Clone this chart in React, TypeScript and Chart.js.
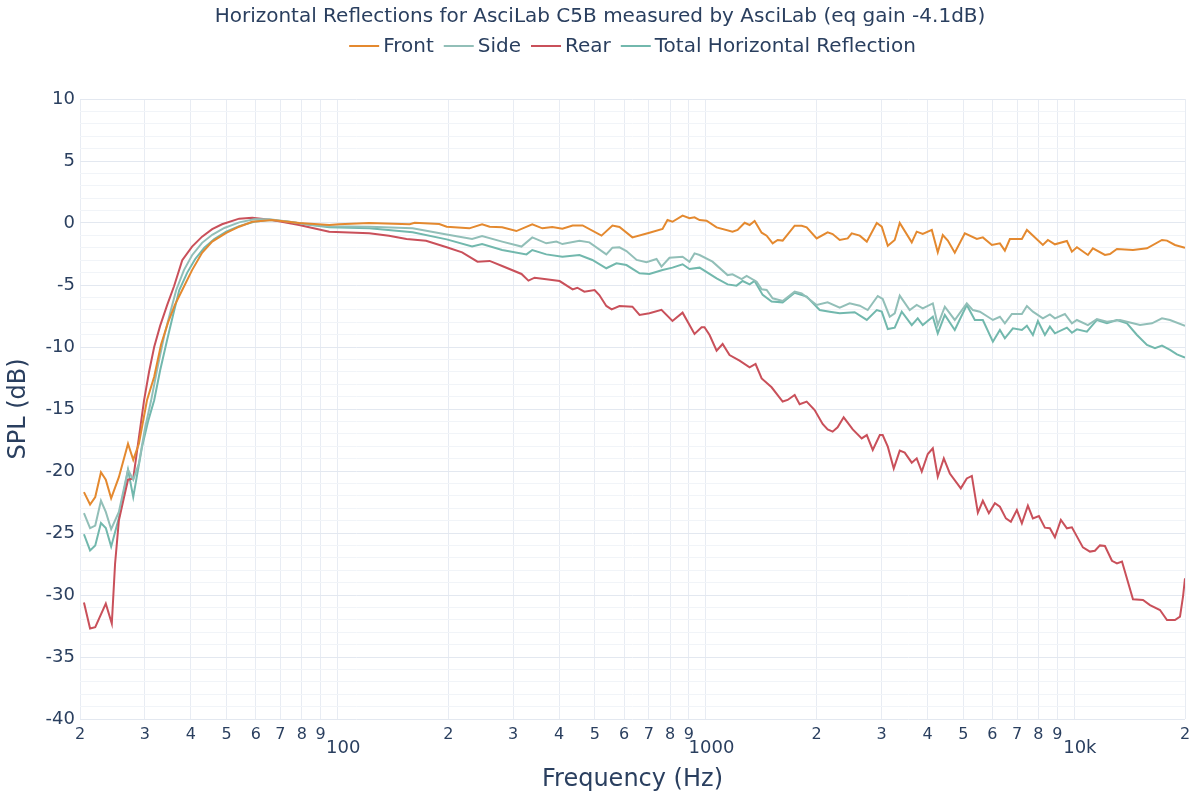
import React, { useEffect, useRef } from "react";
import { Chart, registerables } from "chart.js";

Chart.register(...registerables);

const TITLE = "Horizontal Reflections for AsciLab C5B measured by AsciLab (eq gain -4.1dB)";
const X_TITLE = "Frequency (Hz)";
const Y_TITLE = "SPL (dB)";

const frontFreq = [20.5,21.3,22.0,22.8,23.5,24.3,25.5,27.0,27.9,28.9,30.4,31.8,33.2,34.7,36.2,37.9,40.3,42.9,45.7,49.9,54.1,58.7,66.5,78.7,95,
  101,122,157,162,189,198,228,247,259,280,306,338,360,383,408,435,463,521,558,583,632,703,763,787,812,865,903,932,962,1005,1070,1182,1220,1275,1315,1357,1418,1463,1519,1567,1617,1743,1821,1879,2000,2142,2210,2310,2428,2490,2618,2736,2912,3004,3120,3258,3362,3624,3738,3882,4108,4264,4400,4540,4742,5050,5444,5652,5980,6288,6486,6692,7214,7444,8226,8488,8868,9558,9862,10176,10900,11246,12124,12510,13070,14448,15770,17320,17870,18782,20000];
const frontSpl = [-21.7,-22.7,-22.1,-20.1,-20.7,-22.2,-20.5,-17.8,-19.1,-17.8,-14.3,-12.4,-9.8,-8.0,-6.6,-5.4,-3.8,-2.4,-1.5,-0.8,-0.3,0.1,0.24,0.0,-0.16,
  -0.1,0.0,-0.1,0.02,-0.08,-0.3,-0.43,-0.1,-0.3,-0.35,-0.65,-0.1,-0.43,-0.32,-0.46,-0.2,-0.2,-1.02,-0.2,-0.32,-1.16,-0.78,-0.48,0.24,0.1,0.59,0.38,0.46,0.24,0.19,-0.35,-0.7,-0.56,0.02,-0.16,0.16,-0.78,-1.02,-1.64,-1.37,-1.42,-0.22,-0.22,-0.35,-1.24,-0.75,-0.89,-1.37,-1.24,-0.83,-1.02,-1.5,0.0,-0.3,-1.83,-1.37,0.0,-1.56,-0.7,-0.89,-0.56,-2.36,-0.97,-1.42,-2.39,-0.83,-1.29,-1.16,-1.77,-1.64,-2.23,-1.29,-1.29,-0.56,-1.77,-1.37,-1.72,-1.45,-2.31,-1.96,-2.58,-2.04,-2.58,-2.5,-2.1,-2.18,-2.04,-1.37,-1.42,-1.77,-1.99];

const sideFreq = [20.5,21.3,22.0,22.8,23.5,24.3,25.5,27.0,27.9,28.9,30.0,31.2,32.4,33.8,35.1,36.5,38.3,40.3,42.9,45.7,49.3,54.1,59.4,65.3,74.0,83.8,95,
  122,160,198,232,247,280,316,338,369,393,408,454,483,537,558,583,609,649,690,735,758,797,865,903,932,962,1043,1146,1182,1251,1291,1374,1418,1463,1519,1617,1743,1821,2000,2142,2310,2458,2618,2752,2930,3022,3158,3258,3362,3578,3738,3882,4134,4264,4456,4742,5112,5310,5548,6018,6288,6486,6776,7214,7444,7728,8226,8594,8868,9440,9862,10176,10900,11532,12276,13320,15094,16270,17320,18210,20000];
const sideSpl = [-23.4,-24.6,-24.4,-22.4,-23.3,-24.7,-23.3,-19.9,-20.7,-19.4,-16.6,-14.3,-11.8,-9.2,-7.3,-5.4,-3.8,-2.6,-1.6,-0.95,-0.4,0.05,0.3,0.3,0.1,-0.15,-0.26,
  -0.3,-0.43,-0.92,-1.29,-1.05,-1.5,-1.9,-1.16,-1.64,-1.5,-1.7,-1.43,-1.56,-2.53,-1.99,-1.96,-2.26,-2.98,-3.17,-2.9,-3.52,-2.8,-2.72,-3.12,-2.45,-2.58,-3.12,-4.2,-4.14,-4.52,-4.27,-4.73,-5.35,-5.4,-6.07,-6.29,-5.54,-5.67,-6.61,-6.4,-6.83,-6.48,-6.67,-7.02,-5.89,-6.13,-7.56,-7.28,-5.86,-7.02,-6.61,-6.88,-6.48,-8.23,-6.75,-7.82,-6.48,-7.02,-7.15,-7.82,-7.56,-8.09,-7.34,-7.34,-6.7,-7.15,-7.69,-7.37,-7.69,-7.34,-8.09,-7.82,-8.23,-7.74,-7.96,-7.82,-8.23,-8.09,-7.69,-7.82,-8.3];

const rearFreq = [20.5,21.3,22.0,23.5,24.4,24.9,25.5,26.3,27.0,27.9,28.9,29.85,30.8,31.8,33.0,34.5,36.0,37.9,40.3,42.9,45.7,48.6,54.1,58.7,66.5,78.7,95,
  122,138,154,174,198,218,240,259,280,316,330,343,369,401,435,448,468,499,514,537,555,583,632,661,703,758,812,865,932,974,992,1024,1070,1111,1160,1235,1315,1365,1418,1509,1617,1668,1743,1798,1879,1975,2076,2142,2210,2280,2368,2506,2650,2736,2840,2968,3022,3120,3238,3362,3468,3624,3738,3858,4006,4134,4264,4428,4598,4924,5112,5276,5478,5652,5868,6094,6288,6528,6734,6992,7214,7490,7728,8024,8330,8594,8868,9206,9558,9862,10564,11038,11388,11750,12124,12668,13070,13488,14448,15380,16068,17104,17870,18782,19384,19752,20000];
const rearSpl = [-30.6,-32.7,-32.6,-30.7,-32.3,-27.5,-24.0,-22.2,-20.7,-20.6,-17.3,-14.3,-12.0,-10.0,-8.3,-6.6,-5.1,-3.0,-1.9,-1.1,-0.5,-0.1,0.35,0.43,0.24,-0.16,-0.7,
  -0.83,-1.02,-1.29,-1.43,-1.96,-2.37,-3.12,-3.06,-3.47,-4.11,-4.65,-4.41,-4.54,-4.68,-5.35,-5.22,-5.54,-5.4,-5.81,-6.69,-6.96,-6.69,-6.75,-7.42,-7.28,-7.0,-7.9,-7.23,-8.95,-8.41,-8.41,-9.03,-10.3,-9.76,-10.65,-11.1,-11.64,-11.37,-12.53,-13.25,-14.4,-14.27,-13.87,-14.62,-14.4,-15.08,-16.21,-16.64,-16.83,-16.48,-15.67,-16.64,-17.37,-17.1,-18.3,-17.1,-17.1,-18.04,-19.8,-18.36,-18.52,-19.33,-18.98,-20.05,-18.63,-18.17,-20.46,-18.98,-20.2,-21.4,-20.6,-20.4,-23.36,-22.4,-23.4,-22.6,-22.88,-23.82,-24.09,-23.15,-24.22,-22.8,-23.82,-23.63,-24.57,-24.62,-25.35,-23.95,-24.62,-24.54,-26.16,-26.5,-26.43,-26.0,-26.05,-27.24,-27.45,-27.3,-30.35,-30.4,-30.81,-31.21,-32.02,-32.02,-31.75,-30.14,-28.65];

const totalFreq = [20.5,21.3,22.0,22.8,23.5,24.3,25.5,27.0,27.9,29.5,30.6,31.8,33.0,34.5,35.8,37.2,39.1,41.1,43.5,46.3,49.9,54.1,59.4,65.3,74.0,83.8,95,
  122,160,198,232,247,280,326,338,369,408,454,492,537,572,609,661,703,763,812,865,903,962,1070,1146,1212,1259,1315,1357,1427,1509,1617,1743,1879,2038,2170,2310,2536,2736,2912,3004,3120,3258,3404,3624,3762,3882,4134,4264,4456,4742,5112,5376,5652,6018,6288,6486,6820,7214,7444,7728,7974,8330,8594,8868,9558,9862,10176,10832,11532,12276,13070,13916,14814,15770,16578,17320,18210,19020,20000];
const totalSpl = [-25.1,-26.4,-26.0,-24.2,-24.6,-26.1,-23.8,-19.9,-22.1,-18.0,-16.0,-14.3,-11.9,-9.4,-7.4,-5.4,-4.0,-2.9,-2.0,-1.3,-0.7,-0.25,0.1,0.25,0.1,-0.15,-0.35,
  -0.43,-0.75,-1.32,-1.9,-1.69,-2.18,-2.53,-2.18,-2.53,-2.72,-2.58,-2.98,-3.65,-3.25,-3.39,-4.06,-4.11,-3.79,-3.6,-3.33,-3.71,-3.6,-4.46,-4.95,-5.05,-4.68,-4.95,-4.68,-5.8,-6.34,-6.4,-5.62,-5.94,-7.02,-7.15,-7.28,-7.2,-7.82,-7.02,-7.15,-8.55,-8.44,-7.15,-8.23,-7.69,-8.23,-7.56,-8.9,-7.42,-8.63,-6.61,-7.82,-7.82,-9.57,-8.63,-9.3,-8.49,-8.63,-8.28,-9.03,-7.9,-9.03,-8.36,-8.9,-8.44,-8.85,-8.58,-8.76,-7.82,-8.09,-7.82,-8.09,-9.03,-9.84,-10.1,-9.89,-10.24,-10.6,-10.86];

const seriesLabels = ["Front", "Side", "Rear", "Total Horizontal Reflection"];
const seriesColors = ["#e4892f", "#92bfb8", "#c9505a", "#72b8ad"];

const xTickValues = [20,30,40,50,60,70,80,90,100,200,300,400,500,600,700,800,900,1000,2000,3000,4000,5000,6000,7000,8000,9000,10000,20000];
const xMajorLabels: Record<number, string> = { 100: "100", 1000: "1000", 10000: "10k" };

const FONT = '"DejaVu Sans", sans-serif';
const TEXT = "#2a3f5f";

const toPoints = (f: number[], s: number[]) => f.map((x, i) => ({ x, y: s[i] }));

const headerPlugin = {
  id: "header",
  afterDraw(chart: any) {
    const { ctx, chartArea } = chart;
    ctx.save();
    ctx.fillStyle = TEXT;
    ctx.textBaseline = "middle";
    ctx.textAlign = "center";
    ctx.font = `20px ${FONT}`;
    ctx.fillText(TITLE, 600, 17);
    ctx.font = `20px ${FONT}`;
    const items = chart.data.datasets.map((d: any) => ({
      label: d.label,
      color: d.borderColor,
      w: ctx.measureText(d.label).width,
    }));
    const lineW = 30, gap1 = 4, gap2 = 10;
    const total = items.reduce((s: number, it: any) => s + lineW + gap1 + it.w, 0) + gap2 * (items.length - 1);
    let x = (chartArea.left + chartArea.right) / 2 - total / 2;
    const y = 46;
    ctx.textAlign = "left";
    for (const it of items) {
      ctx.strokeStyle = it.color;
      ctx.lineWidth = 2;
      ctx.beginPath();
      ctx.moveTo(x, y);
      ctx.lineTo(x + lineW, y);
      ctx.stroke();
      ctx.fillStyle = TEXT;
      ctx.fillText(it.label, x + lineW + gap1, y + 1);
      x += lineW + gap1 + it.w + gap2;
    }
    ctx.restore();
  },
};

export default function App() {
  const ref = useRef<HTMLCanvasElement | null>(null);
  useEffect(() => {
    if (!ref.current) return;
    Chart.defaults.font.family = FONT;
    Chart.defaults.color = TEXT;
    const freqs = [frontFreq, sideFreq, rearFreq, totalFreq];
    const spls = [frontSpl, sideSpl, rearSpl, totalSpl];
    const chart = new Chart(ref.current, {
      type: "line",
      data: {
        datasets: seriesLabels.map((label, i) => ({
          label,
          data: toPoints(freqs[i], spls[i]),
          borderColor: seriesColors[i],
          backgroundColor: seriesColors[i],
          borderWidth: 2,
          pointRadius: 0,
          tension: 0,
          fill: false,
        })),
      },
      options: {
        responsive: false,
        animation: false,
        layout: { padding: { top: 99, right: 15, left: 0, bottom: 0 } },
        plugins: {
          legend: { display: false },
          title: { display: false },
          tooltip: { enabled: false },
        },
        scales: {
          x: {
            type: "logarithmic",
            min: 20,
            max: 20000,
            border: { display: false },
            afterBuildTicks: (scale: any) => {
              scale.ticks = xTickValues.map((v) => ({ value: v }));
            },
            afterFit: (scale: any) => {
              scale.height = 81;
            },
            grid: { color: "#e8ecf3", drawTicks: false, lineWidth: 1 },
            ticks: {
              autoSkip: false,
              maxRotation: 0,
              padding: 6,
              color: TEXT,
              callback: (v: any) => {
                const n = Number(v);
                if (xMajorLabels[n]) return "  " + xMajorLabels[n];
                const lead = Math.round(n / Math.pow(10, Math.floor(Math.log10(n) + 1e-9)));
                return String(lead);
              },
              font: (c: any) => {
                const v = c.tick ? c.tick.value : 0;
                return xMajorLabels[v]
                  ? { size: 18, lineHeight: 2.6, family: FONT }
                  : { size: 16, lineHeight: 1.2, family: FONT };
              },
            },
            title: {
              display: true,
              text: X_TITLE,
              color: TEXT,
              font: { size: 24, family: FONT },
              padding: { top: 0, bottom: 6 },
            },
          },
          y: {
            min: -40,
            max: 10,
            border: { display: false },
            afterFit: (scale: any) => {
              scale.width = 80;
            },
            grid: {
              drawTicks: false,
              color: (c: any) => (c.tick && c.tick.value % 5 === 0 ? "#e3e8f0" : "#f1f4f8"),
              lineWidth: 1,
            },
            ticks: {
              stepSize: 1,
              autoSkip: false,
              padding: 5,
              color: TEXT,
              font: { size: 18, family: FONT },
              callback: (v: any) => (Number(v) % 5 === 0 ? String(v) : ""),
            },
            title: {
              display: true,
              text: Y_TITLE,
              color: TEXT,
              font: { size: 24, family: FONT },
              padding: { top: 4, bottom: 0 },
            },
          },
        },
      },
      plugins: [headerPlugin],
    } as any);
    return () => chart.destroy();
  }, []);
  return (
    <div style={{ position: "absolute", left: 0, top: 0, width: 1200, height: 800, background: "#fff" }}>
      <canvas ref={ref} width={1200} height={800} style={{ display: "block" }} />
    </div>
  );
}
